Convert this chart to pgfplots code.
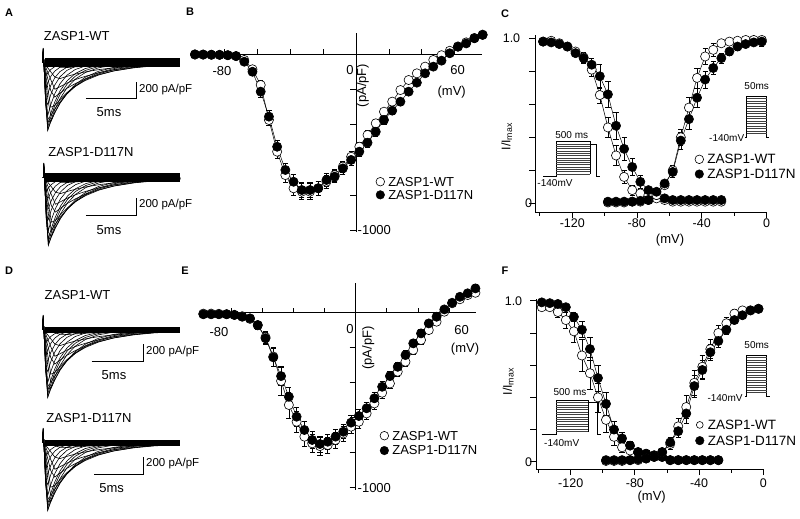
\documentclass[border=0pt]{standalone}
\usepackage{fontspec}
\setmainfont{Liberation Sans}
\usepackage{pgfplots}
\usepackage{pgfplotstable}
\pgfplotsset{compat=1.18}
\newcommand{\fs}[1]{\fontsize{#1}{#1}\selectfont}

% current traces (ms, pA/pF), one column per test pulse
\pgfplotstableread{
t     c1   c2   c3   c4   c5   c6   c7   c8   c9   c10  c11  c12  c13  c14  c15  c16
0     0    0    0    0    0    0    0    0    0    0    0    0    0    0    0    0
0.05  150  170  120  180  160  140  175  130  165  150  140  120  160  145  175  135
0.12  0    0    0    0    0    0    0    0    0    0    0    0    0    0    0    0
0.3   -6   -28  -88  -202 -379 -453 -501 -478 -446 -377 -300 -160 -300 -140 -50  -480
0.5   -12  -59  -186 -426 -800 -808 -731 -629 -498 -368 -234 -120 -650 -300 -110 -770
0.8   -22  -106 -332 -629 -706 -690 -602 -500 -379 -268 -161 -78  -700 -530 -200 -650
1.2   -34  -169 -409 -550 -598 -559 -466 -367 -263 -176 -97  -44  -590 -510 -315 -510
1.7   -50  -187 -361 -466 -485 -430 -337 -250 -167 -104 -52  -22  -480 -440 -285 -380
2.4   -55  -160 -303 -369 -362 -297 -215 -146 -88  -50  -22  -8   -370 -355 -240 -255
3.2   -47  -134 -248 -283 -260 -195 -128 -79  -43  -22  -8   -3   -275 -280 -200 -160
4.2   -39  -107 -193 -202 -171 -115 -67  -37  -17  -7   -2   0    -190 -210 -160 -90
5.5   -30  -80  -140 -131 -100 -58  -29  -13  -5   -2   0    0    -118 -145 -118 -42
7     -22  -58  -96  -80  -53  -26  -11  -4   -1   0    0    0    -68  -95  -83  -17
9     -15  -37  -58  -41  -23  -8   -2   0    0    0    0    0    -32  -55  -51  -5
11    -10  -24  -35  -21  -10  -3   0    0    0    0    0    0    -15  -30  -32  -1
13.5  -6   -14  -19  -9   -3   0    0    0    0    0    0    0    -6   -14  -18  0
}\traces

\pgfplotsset{
  trace/.style={hide axis, scale only axis, anchor=north west, width=147pt, height=96pt,
    xmin=-0.5, xmax=14, ymin=-900, ymax=250, clip=false},
  leg/.style={legend style={draw=none, fill=none, font=\fs{#1}, inner sep=0pt,
      nodes={inner sep=0.5pt, text height=0.72*#1pt, text depth=0.5pt}, anchor=west},
    legend cell align=left,
    legend image code/.code={\draw[##1] plot coordinates {(4.5pt,0pt)};
      \path[draw=none, fill=none] (0pt,0pt) -- (12pt,0pt);}},
  iv/.style={scale only axis, anchor=north west, axis lines=middle,
    axis line style={-, line width=0.8pt}, xtick=\empty,
    ytick={-1000,-800,-600,-400,-200}, yticklabels={}, tick align=outside,
    major tick length=6pt, tick style={black, line width=0.8pt}, clip=false, leg=13},
  ss/.style={scale only axis, anchor=north west, axis lines=left,
    axis line style={-, line width=0.8pt}, xtick={-120,-80,-40,0},
    minor xtick={-140,-100,-60,-20}, ytick={0,0.2,0.4,0.6,0.8,1},
    xticklabels={}, yticklabels={}, tick align=outside,
    major tick length=6pt, minor tick length=3.5pt,
    tick style={black, line width=0.8pt}, clip=false, leg=13.5},
  wt/.style={black, line width=0.5pt, mark=*, mark size=4.6pt,
    mark options={fill=white, line width=0.6pt, solid},
    error bars/.cd, y dir=both, y explicit, error bar style={line width=0.6pt, black},
    error mark options={black, line width=0.6pt, mark size=2.6pt, rotate=90}},
  mut/.style={black, line width=0.5pt, mark=*, mark size=4.6pt,
    mark options={fill=black, line width=0.6pt, solid},
    error bars/.cd, y dir=both, y explicit, error bar style={line width=0.6pt, black},
    error mark options={black, line width=0.6pt, mark size=2.6pt, rotate=90}},
}

\begin{document}
\begin{tikzpicture}
\useasboundingbox (0pt,0pt) rectangle (800pt,-519pt);

% ---------------- A and D: current traces ----------------
\begin{axis}[trace, at={(37.6pt,-42.1pt)}]
  \pgfplotsinvokeforeach{1,...,16}{\addplot[black, line width=0.6pt] table[x=t, y=c#1]{\traces};}
  \addplot[black, line width=9pt] coordinates {(0.2,0) (13.55,0)};
  \addplot[black, line width=0.8pt] coordinates {(4.27,-423) (9.27,-423) (9.27,-223)};
\end{axis}
\begin{axis}[trace, at={(38.2pt,-157.1pt)}]
  \pgfplotsinvokeforeach{1,...,16}{\addplot[black, line width=0.6pt] table[x=t, y=c#1]{\traces};}
  \addplot[black, line width=9pt] coordinates {(0.2,0) (13.5,0)};
  \addplot[black, line width=0.8pt] coordinates {(4.21,-443) (9.21,-443) (9.21,-243)};
\end{axis}
\begin{axis}[trace, at={(37.6pt,-309.1pt)}]
  \pgfplotsinvokeforeach{1,...,16}{\addplot[black, line width=0.6pt] table[x=t, y=c#1]{\traces};}
  \addplot[black, line width=6.5pt] coordinates {(0.2,0) (13.55,0)};
  \addplot[black, line width=0.8pt] coordinates {(4.83,-371) (9.92,-371) (9.92,-171)};
\end{axis}
\begin{axis}[trace, at={(37.6pt,-422.1pt)}]
  \pgfplotsinvokeforeach{1,...,16}{\addplot[black, line width=0.6pt] table[x=t, y=c#1]{\traces};}
  \addplot[black, line width=6.5pt] coordinates {(0.2,0) (13.55,0)};
  \addplot[black, line width=0.8pt] coordinates {(5.09,-371) (9.92,-371) (9.92,-171)};
\end{axis}

% ---------------- B: I-V ----------------
\begin{axis}[iv, at={(193.3pt,-33.2pt)}, width=288.5pt, height=198.9pt,
  xmin=-99, xmax=76.5, ymin=-1010, ymax=120,
  legend style={at={(axis cs:11.9,-761)}, row sep=2.3pt}]
  \addlegendimage{only marks, mark=*, mark size=4.3pt, mark options={fill=white, line width=0.6pt}}
  \addlegendentry{ZASP1-WT}
  \addlegendimage{only marks, mark=*, mark size=4.3pt, mark options={fill=black}}
  \addlegendentry{ZASP1-D117N}
  \addplot[forget plot, wt] coordinates {
    (-98,-2) +- (0,4) (-93,-2) +- (0,4) (-88,-3) +- (0,4) (-83,-3) +- (0,4)
    (-78,-5) +- (0,5) (-73,-10) +- (0,8) (-68,-32) +- (0,12) (-63,-85) +- (0,20)
    (-58,-174) +- (0,28) (-53,-373) +- (0,32) (-48,-553) +- (0,35) (-43,-686) +- (0,40)
    (-38,-761) +- (0,42) (-33,-780) +- (0,45) (-28,-780) +- (0,45) (-23,-761) +- (0,42)
    (-18,-724) +- (0,38) (-13,-686) +- (0,35) (-8,-638) +- (0,32) (-3,-582) +- (0,30)
    (2,-525) +- (0,28) (7,-458) +- (0,26) (12,-392) +- (0,24) (17,-326) +- (0,22)
    (22,-269) +- (0,20) (27,-203) +- (0,18) (32,-146) +- (0,16) (37,-108) +- (0,15)
    (42,-70) +- (0,14) (47,-32) +- (0,14) (52,-5) +- (0,14) (57,20) +- (0,14)
    (62,45) +- (0,14) (67,68) +- (0,14) (72,93) +- (0,14) (77,112) +- (0,14)};
  \addplot[forget plot, mut] coordinates {
    (-98,0) +- (0,4) (-93,-1) +- (0,4) (-88,-2) +- (0,4) (-83,-3) +- (0,4)
    (-78,-5) +- (0,5) (-73,-10) +- (0,8) (-68,-42) +- (0,14) (-63,-99) +- (0,22)
    (-58,-212) +- (0,30) (-53,-354) +- (0,35) (-48,-525) +- (0,35) (-43,-657) +- (0,38)
    (-38,-724) +- (0,40) (-33,-771) +- (0,42) (-28,-771) +- (0,42) (-23,-761) +- (0,40)
    (-18,-714) +- (0,36) (-13,-695) +- (0,34) (-8,-648) +- (0,32) (-3,-600) +- (0,30)
    (2,-553) +- (0,28) (7,-502) +- (0,26) (12,-440) +- (0,24) (17,-373) +- (0,22)
    (22,-320) +- (0,20) (27,-269) +- (0,18) (32,-212) +- (0,16) (37,-161) +- (0,15)
    (42,-108) +- (0,14) (47,-70) +- (0,14) (52,-36) +- (0,14) (57,6) +- (0,14)
    (62,43) +- (0,14) (67,62) +- (0,14) (72,91) +- (0,14) (77,110) +- (0,14)};
  \pgfplotsinvokeforeach{-80,-60,-40,-20,20,40,60}{\draw[line width=0.8pt] (axis cs:#1,0) -- ++(0pt,5pt);}
\end{axis}

% ---------------- E: I-V ----------------
\begin{axis}[iv, at={(201pt,-282.8pt)}, width=275.2pt, height=206.7pt,
  xmin=-99.5, xmax=77.5, ymin=-1010, ymax=171,
  legend style={at={(axis cs:15.4,-745)}, row sep=4pt}]
  \addlegendimage{only marks, mark=*, mark size=4.3pt, mark options={fill=white, line width=0.6pt}}
  \addlegendentry{ZASP1-WT}
  \addlegendimage{only marks, mark=*, mark size=4.3pt, mark options={fill=black}}
  \addlegendentry{ZASP1-D117N}
  \addplot[forget plot, wt] coordinates {
    (-98,-5) +- (0,5) (-93,-5) +- (0,5) (-88,-6) +- (0,5) (-83,-8) +- (0,5)
    (-78,-12) +- (0,6) (-73,-20) +- (0,8) (-68,-35) +- (0,12) (-63,-72) +- (0,20)
    (-58,-140) +- (0,35) (-53,-250) +- (0,55) (-48,-390) +- (0,80) (-43,-527) +- (0,75)
    (-38,-623) +- (0,60) (-33,-708) +- (0,55) (-28,-746) +- (0,50) (-23,-762) +- (0,50)
    (-18,-756) +- (0,45) (-13,-727) +- (0,45) (-8,-690) +- (0,42) (-3,-651) +- (0,40)
    (2,-623) +- (0,38) (7,-575) +- (0,36) (12,-518) +- (0,34) (17,-457) +- (0,32)
    (22,-404) +- (0,30) (27,-337) +- (0,28) (32,-280) +- (0,26) (37,-213) +- (0,24)
    (42,-156) +- (0,22) (47,-99) +- (0,20) (52,-51) +- (0,20) (57,6) +- (0,20)
    (62,54) +- (0,20) (67,77) +- (0,20) (72,101) +- (0,20) (77,114) +- (0,20)};
  \addplot[forget plot, mut] coordinates {
    (-98,-9) +- (0,5) (-93,-9) +- (0,5) (-88,-9) +- (0,5) (-83,-9) +- (0,5)
    (-78,-13) +- (0,6) (-73,-23) +- (0,8) (-68,-32) +- (0,12) (-63,-70) +- (0,20)
    (-58,-146) +- (0,35) (-53,-255) +- (0,50) (-48,-362) +- (0,55) (-43,-480) +- (0,55)
    (-38,-594) +- (0,55) (-33,-670) +- (0,50) (-28,-727) +- (0,48) (-23,-750) +- (0,45)
    (-18,-737) +- (0,45) (-13,-708) +- (0,42) (-8,-680) +- (0,40) (-3,-628) +- (0,40)
    (2,-590) +- (0,38) (7,-546) +- (0,36) (12,-489) +- (0,34) (17,-423) +- (0,32)
    (22,-362) +- (0,30) (27,-309) +- (0,28) (32,-242) +- (0,26) (37,-175) +- (0,24)
    (42,-118) +- (0,22) (47,-61) +- (0,20) (52,-23) +- (0,20) (57,19) +- (0,20)
    (62,57) +- (0,20) (67,91) +- (0,20) (72,111) +- (0,20) (77,139) +- (0,22)};
  \pgfplotsinvokeforeach{-80,-60,-40,-20,20,40,60}{\draw[line width=0.8pt] (axis cs:#1,0) -- ++(0pt,5pt);}
\end{axis}

% ---------------- C: inactivation / activation ----------------
\begin{axis}[ss, at={(535pt,-35pt)}, width=231.7pt, height=177.3pt,
  xmin=-143, xmax=0, ymin=-0.0545, ymax=1.02,
  legend style={at={(axis cs:-44.5,0.222)}, row sep=3.5pt}]
  \addlegendimage{only marks, mark=*, mark size=4.3pt, mark options={fill=white, line width=0.6pt}}
  \addlegendentry{ZASP1-WT}
  \addlegendimage{only marks, mark=*, mark size=4.3pt, mark options={fill=black}}
  \addlegendentry{ZASP1-D117N}
  % steady-state inactivation
  \addplot[forget plot, wt] coordinates {
    (-138,0.98) +- (0,0.01) (-133,0.985) +- (0,0.01) (-128,0.97) +- (0,0.01)
    (-123,0.95) +- (0,0.015) (-118,0.92) +- (0,0.02) (-113,0.885) +- (0,0.03)
    (-108,0.81) +- (0,0.04) (-103,0.656) +- (0,0.05) (-98,0.46) +- (0,0.06)
    (-93,0.29) +- (0,0.06) (-88,0.16) +- (0,0.04) (-83,0.08) +- (0,0.03)
    (-78,0.06) +- (0,0.02) (-73,0.05) +- (0,0.01) (-68,0.03) +- (0,0.01)
    (-63,0.02) +- (0,0.01) (-58,0.01) +- (0,0) (-53,0.01) +- (0,0) (-48,0.01) +- (0,0)
    (-43,0.01) +- (0,0) (-38,0.01) +- (0,0) (-33,0.01) +- (0,0) (-28,0.01) +- (0,0)};
  \addplot[forget plot, mut] coordinates {
    (-138,0.98) +- (0,0.01) (-133,0.975) +- (0,0.01) (-128,0.965) +- (0,0.01)
    (-123,0.95) +- (0,0.015) (-118,0.91) +- (0,0.02) (-113,0.88) +- (0,0.03)
    (-108,0.84) +- (0,0.04) (-103,0.77) +- (0,0.07) (-98,0.66) +- (0,0.08)
    (-93,0.47) +- (0,0.08) (-88,0.33) +- (0,0.07) (-83,0.22) +- (0,0.05)
    (-78,0.13) +- (0,0.04) (-73,0.08) +- (0,0.02) (-68,0.05) +- (0,0.01)
    (-63,0.03) +- (0,0.01) (-58,0.02) +- (0,0) (-53,0.02) +- (0,0) (-48,0.02) +- (0,0)
    (-43,0.02) +- (0,0) (-38,0.02) +- (0,0) (-33,0.02) +- (0,0) (-28,0.02) +- (0,0)};
  % activation
  \addplot[forget plot, wt] coordinates {
    (-98,0.005) +- (0,0) (-93,0.005) +- (0,0) (-88,0.005) +- (0,0) (-83,0.01) +- (0,0)
    (-78,0.01) +- (0,0) (-73,0.02) +- (0,0.01) (-68,0.05) +- (0,0.01)
    (-63,0.11) +- (0,0.02) (-58,0.20) +- (0,0.03) (-53,0.40) +- (0,0.05)
    (-48,0.58) +- (0,0.06) (-43,0.76) +- (0,0.06) (-38,0.89) +- (0,0.05)
    (-33,0.93) +- (0,0.04) (-28,0.97) +- (0,0.02) (-23,0.98) +- (0,0.01)
    (-18,0.985) +- (0,0.01) (-13,0.99) +- (0,0.01) (-8,0.99) +- (0,0.01) (-3,0.99) +- (0,0.02)};
  \addplot[forget plot, mut] coordinates {
    (-98,0.01) +- (0,0) (-93,0.01) +- (0,0) (-88,0.01) +- (0,0) (-83,0.01) +- (0,0)
    (-78,0.015) +- (0,0) (-73,0.02) +- (0,0.01) (-68,0.07) +- (0,0.01)
    (-63,0.12) +- (0,0.02) (-58,0.19) +- (0,0.03) (-53,0.38) +- (0,0.05)
    (-48,0.51) +- (0,0.06) (-43,0.64) +- (0,0.06) (-38,0.75) +- (0,0.05)
    (-33,0.82) +- (0,0.04) (-28,0.88) +- (0,0.03) (-23,0.92) +- (0,0.02)
    (-18,0.95) +- (0,0.02) (-13,0.965) +- (0,0.02) (-8,0.975) +- (0,0.02) (-3,0.98) +- (0,0.03)};
\end{axis}

% ---------------- F: inactivation / activation ----------------
\begin{axis}[ss, at={(536pt,-299.3pt)}, width=227.3pt, height=169.7pt,
  xmin=-141.6, xmax=0, ymin=-0.045, ymax=1.009,
  legend style={at={(axis cs:-42.5,0.18)}, row sep=4.5pt}]
  \addlegendimage{only marks, mark=*, mark size=3.4pt, mark options={fill=white, line width=0.6pt}}
  \addlegendentry{ZASP1-WT}
  \addlegendimage{only marks, mark=*, mark size=4.3pt, mark options={fill=black}}
  \addlegendentry{ZASP1-D117N}
  \addplot[forget plot, wt] coordinates {
    (-138,0.96) +- (0,0.01) (-133,0.96) +- (0,0.02) (-128,0.93) +- (0,0.03)
    (-123,0.88) +- (0,0.05) (-118,0.81) +- (0,0.07) (-113,0.66) +- (0,0.10)
    (-108,0.55) +- (0,0.10) (-103,0.40) +- (0,0.09) (-98,0.26) +- (0,0.08)
    (-93,0.155) +- (0,0.05) (-88,0.09) +- (0,0.03) (-83,0.07) +- (0,0.02)
    (-78,0.06) +- (0,0.01) (-73,0.05) +- (0,0.01) (-68,0.04) +- (0,0.01)
    (-63,0.03) +- (0,0.01) (-58,0.01) +- (0,0) (-53,0.01) +- (0,0) (-48,0.01) +- (0,0)
    (-43,0.01) +- (0,0) (-38,0.01) +- (0,0) (-33,0.01) +- (0,0) (-28,0.01) +- (0,0)};
  \addplot[forget plot, mut] coordinates {
    (-138,0.99) +- (0,0.01) (-133,0.985) +- (0,0.01) (-128,0.98) +- (0,0.01)
    (-123,0.96) +- (0,0.02) (-118,0.90) +- (0,0.03) (-113,0.82) +- (0,0.05)
    (-108,0.70) +- (0,0.07) (-103,0.52) +- (0,0.08) (-98,0.36) +- (0,0.07)
    (-93,0.20) +- (0,0.05) (-88,0.145) +- (0,0.04) (-83,0.10) +- (0,0.03)
    (-78,0.06) +- (0,0.02) (-73,0.05) +- (0,0.01) (-68,0.04) +- (0,0.01)
    (-63,0.03) +- (0,0.01) (-58,0.01) +- (0,0) (-53,0.01) +- (0,0) (-48,0.01) +- (0,0)
    (-43,0.01) +- (0,0) (-38,0.01) +- (0,0) (-33,0.01) +- (0,0) (-28,0.01) +- (0,0)};
  \addplot[forget plot, wt] coordinates {
    (-98,0.005) +- (0,0) (-93,0.005) +- (0,0) (-88,0.005) +- (0,0) (-83,0.01) +- (0,0)
    (-78,0.01) +- (0,0) (-73,0.02) +- (0,0.01) (-68,0.03) +- (0,0.01)
    (-63,0.06) +- (0,0.02) (-58,0.11) +- (0,0.03) (-53,0.22) +- (0,0.05)
    (-48,0.34) +- (0,0.07) (-43,0.49) +- (0,0.08) (-38,0.59) +- (0,0.07)
    (-33,0.70) +- (0,0.06) (-28,0.80) +- (0,0.05) (-23,0.86) +- (0,0.04)
    (-18,0.92) +- (0,0.03) (-13,0.94) +- (0,0.02) (-8,0.94) +- (0,0.01) (-3,0.95) +- (0,0.01)};
  \addplot[forget plot, mut] coordinates {
    (-98,0.01) +- (0,0) (-93,0.01) +- (0,0) (-88,0.01) +- (0,0) (-83,0.01) +- (0,0)
    (-78,0.015) +- (0,0) (-73,0.02) +- (0,0.01) (-68,0.03) +- (0,0.01)
    (-63,0.06) +- (0,0.02) (-58,0.12) +- (0,0.03) (-53,0.19) +- (0,0.04)
    (-48,0.30) +- (0,0.06) (-43,0.47) +- (0,0.07) (-38,0.57) +- (0,0.06)
    (-33,0.68) +- (0,0.05) (-28,0.75) +- (0,0.04) (-23,0.82) +- (0,0.03)
    (-18,0.88) +- (0,0.02) (-13,0.91) +- (0,0.02) (-8,0.94) +- (0,0.01) (-3,0.95) +- (0,0.01)};
\end{axis}

% ---------------- text and protocol sketches, in pixel units ----------------
\begin{scope}[x=1pt, y=-1pt]
  % panel letters
  \node[font=\fs{11}\bfseries] at (9,13) {A};
  \node[font=\fs{11}\bfseries] at (190,12) {B};
  \node[font=\fs{11}\bfseries] at (505,14) {C};
  \node[font=\fs{11}\bfseries] at (9,271) {D};
  \node[font=\fs{11}\bfseries] at (185,271) {E};
  \node[font=\fs{11}\bfseries] at (505,271) {F};
  % A
  \node[font=\fs{13}] at (76.7,36) {ZASP1-WT};
  \node[font=\fs{11.5}, anchor=west, inner sep=0pt] at (139,90) {200 pA/pF};
  \node[font=\fs{13}] at (109,111.7) {5ms};
  \node[font=\fs{13}] at (91,151.7) {ZASP1-D117N};
  \node[font=\fs{11.5}, anchor=west, inner sep=0pt] at (139,205) {200 pA/pF};
  \node[font=\fs{13}] at (109,230) {5ms};
  % D
  \node[font=\fs{13}] at (77.5,295) {ZASP1-WT};
  \node[font=\fs{11.5}, anchor=west, inner sep=0pt] at (146,351.7) {200 pA/pF};
  \node[font=\fs{13}] at (114,375) {5ms};
  \node[font=\fs{13}] at (89,418.3) {ZASP1-D117N};
  \node[font=\fs{11.5}, anchor=west, inner sep=0pt] at (146,464) {200 pA/pF};
  \node[font=\fs{13}] at (111.7,488) {5ms};
  % B labels
  \node[font=\fs{13}] at (350,70) {0};
  \node[font=\fs{13}] at (222,71.5) {-80};
  \node[font=\fs{13}] at (457.5,70.5) {60};
  \node[font=\fs{13}] at (451.7,91.7) {(mV)};
  \node[font=\fs{13}, rotate=90] at (362.7,85.5) {(pA/pF)};
  \node[font=\fs{13}, anchor=west, inner sep=0.5pt] at (357,230) {-1000};
  % E labels
  \node[font=\fs{13}] at (350,329.3) {0};
  \node[font=\fs{13}] at (219,331.7) {-80};
  \node[font=\fs{13}] at (461.7,330) {60};
  \node[font=\fs{13}] at (465,349.3) {(mV)};
  \node[font=\fs{13}, rotate=90] at (368.3,348) {(pA/pF)};
  \node[font=\fs{13}, anchor=west, inner sep=0.5pt] at (357,488.3) {-1000};
  % C labels
  \node[font=\fs{12.5}] at (572.3,223.3) {-120};
  \node[font=\fs{12.5}] at (636.7,223.3) {-80};
  \node[font=\fs{12.5}] at (701.7,223.3) {-40};
  \node[font=\fs{12.5}] at (766.7,223.3) {0};
  \node[font=\fs{13}] at (670,240) {(mV)};
  \node[font=\fs{12.5}] at (511.5,38.3) {1.0};
  \node[font=\fs{12.5}] at (528.5,203.3) {0};
  \node[font=\fs{12.5}, rotate=90] at (506.7,136.7) {I/I\textsubscript{max}};
  % F labels
  \node[font=\fs{12.5}] at (570.7,483.3) {-120};
  \node[font=\fs{12.5}] at (634.9,483.3) {-80};
  \node[font=\fs{12.5}] at (699.1,483.3) {-40};
  \node[font=\fs{12.5}] at (763.3,483.3) {0};
  \node[font=\fs{13}] at (651.7,497) {(mV)};
  \node[font=\fs{12.5}] at (513.5,301) {1.0};
  \node[font=\fs{12.5}] at (528.5,461.7) {0};
  \node[font=\fs{12.5}, rotate=90] at (508.3,381.7) {I/I\textsubscript{max}};
  % protocol sketches, C
  \draw[line width=0.6pt] (543.3,176.7) -- (556,176.7) -- (556,141.7) -- (590,141.7) -- (590,144) -- (596,144) -- (596,176.7) -- (600,176.7);
  \foreach \k in {1,...,14} \draw[black!75, line width=0.6pt] (556,141.7+2.3*\k) -- (590,141.7+2.3*\k);
  \draw[line width=0.6pt] (590,141.7) -- (590,174);
  \node[font=\fs{10}] at (571.7,135) {500 ms};
  \node[font=\fs{10}] at (555,183.3) {-140mV};
  \draw[line width=0.6pt] (745,137.3) -- (746.7,137.3) -- (746.7,96) -- (766.7,96) -- (766.7,137.3) -- (769.3,137.3);
  \foreach \k in {1,...,15} \draw[black!75, line width=0.6pt] (746.7,96+2.5*\k) -- (766.7,96+2.5*\k);
  \node[font=\fs{10}] at (756.7,86) {50ms};
  \node[font=\fs{10}] at (726.7,138.3) {-140mV};
  % protocol sketches, F
  \draw[line width=0.6pt] (541.7,434.3) -- (556,434.3) -- (556,400) -- (588.3,400) -- (588.3,402) -- (597.3,402) -- (597.3,434.3) -- (600.5,434.3);
  \foreach \k in {1,...,13} \draw[black!75, line width=0.6pt] (556,400+2.4*\k) -- (588.3,400+2.4*\k);
  \draw[line width=0.6pt] (588.3,400) -- (588.3,431.7);
  \node[font=\fs{10}] at (570,391.7) {500 ms};
  \node[font=\fs{10}] at (561.7,443.3) {-140mV};
  \draw[line width=0.6pt] (745,396) -- (746.7,396) -- (746.7,355) -- (766.7,355) -- (766.7,396) -- (770,396);
  \foreach \k in {1,...,15} \draw[black!75, line width=0.6pt] (746.7,355+2.5*\k) -- (766.7,355+2.5*\k);
  \node[font=\fs{10}] at (756.7,345) {50ms};
  \node[font=\fs{10}] at (725,398.3) {-140mV};
\end{scope}
\end{tikzpicture}
\end{document}
